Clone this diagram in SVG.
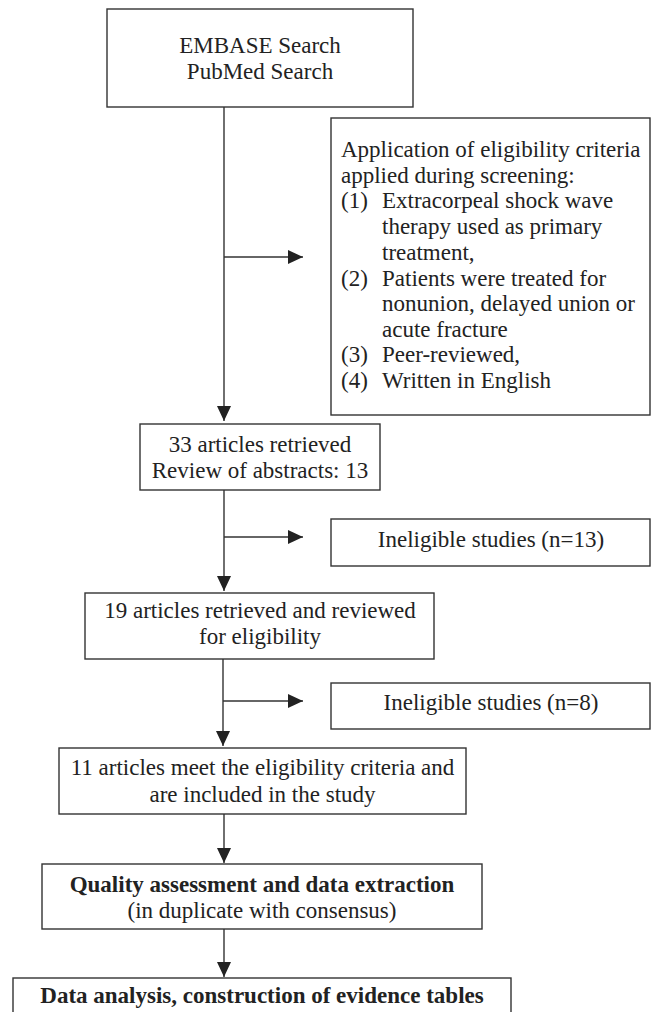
<svg xmlns="http://www.w3.org/2000/svg" width="662" height="1012" viewBox="0 0 662 1012">
<style>
.box{fill:#fff;stroke:#333;stroke-width:1.4}
.t{font-family:"Liberation Serif","Times New Roman",serif;font-size:23px;fill:#222}
.c{text-anchor:middle}
.b{font-weight:bold}
.ln{stroke:#333;stroke-width:1.4;fill:none}
</style>
<defs>
<marker id="ah" markerUnits="userSpaceOnUse" markerWidth="15" markerHeight="14" refX="15" refY="7" orient="auto">
<path d="M0,0 L15,7 L0,14 z" fill="#222"/>
</marker>
</defs>
<rect width="662" height="1012" fill="#fff"/>
<g id="connectors">
<line class="ln" x1="224" y1="107" x2="224" y2="421" marker-end="url(#ah)"/>
<line class="ln" x1="224" y1="257" x2="303" y2="257" marker-end="url(#ah)"/>
<line class="ln" x1="224" y1="490" x2="224" y2="591" marker-end="url(#ah)"/>
<line class="ln" x1="224" y1="537" x2="303" y2="537" marker-end="url(#ah)"/>
<line class="ln" x1="223" y1="659" x2="223" y2="746" marker-end="url(#ah)"/>
<line class="ln" x1="223" y1="701" x2="303" y2="701" marker-end="url(#ah)"/>
<line class="ln" x1="224" y1="814" x2="224" y2="863" marker-end="url(#ah)"/>
<line class="ln" x1="224" y1="929" x2="224" y2="977" marker-end="url(#ah)"/>
</g>
<g id="search">
<rect class="box" x="107" y="9" width="306" height="98"/>
<text class="t c" x="260" y="53">EMBASE Search</text>
<text class="t c" x="260" y="79">PubMed Search</text>
</g>
<g id="criteria">
<rect class="box" x="331" y="118" width="319" height="297"/>
<text class="t" x="341" y="157">Application of eligibility criteria</text>
<text class="t" x="341" y="183">applied during screening:</text>
<text class="t" x="341" y="208">(1)</text>
<text class="t" x="382" y="208">Extracorpeal shock wave</text>
<text class="t" x="382" y="234">therapy used as primary</text>
<text class="t" x="382" y="260">treatment,</text>
<text class="t" x="341" y="286">(2)</text>
<text class="t" x="382" y="286">Patients were treated for</text>
<text class="t" x="382" y="311">nonunion, delayed union or</text>
<text class="t" x="382" y="337">acute fracture</text>
<text class="t" x="341" y="362">(3)</text>
<text class="t" x="382" y="362">Peer-reviewed,</text>
<text class="t" x="341" y="388">(4)</text>
<text class="t" x="382" y="388">Written in English</text>
</g>
<g id="retrieved33">
<rect class="box" x="140" y="424" width="240" height="66"/>
<text class="t c" x="260" y="452">33 articles retrieved</text>
<text class="t c" x="260" y="478">Review of abstracts: 13</text>
</g>
<g id="ineligible13">
<rect class="box" x="331" y="519" width="319" height="47"/>
<text class="t c" x="491" y="547">Ineligible studies (n=13)</text>
</g>
<g id="retrieved19">
<rect class="box" x="85" y="593" width="349" height="66"/>
<text class="t c" x="260" y="618">19 articles retrieved and reviewed</text>
<text class="t c" x="260" y="644">for eligibility</text>
</g>
<g id="ineligible8">
<rect class="box" x="331" y="683" width="319" height="46"/>
<text class="t c" x="491" y="710">Ineligible studies (n=8)</text>
</g>
<g id="included11">
<rect class="box" x="59" y="748" width="407" height="66"/>
<text class="t c" x="262.5" y="775">11 articles meet the eligibility criteria and</text>
<text class="t c" x="262.5" y="802">are included in the study</text>
</g>
<g id="quality">
<rect class="box" x="42" y="864" width="440" height="65"/>
<text class="t c b" x="262" y="892">Quality assessment and data extraction</text>
<text class="t c" x="262" y="918">(in duplicate with consensus)</text>
</g>
<g id="analysis">
<rect class="box" x="13" y="978" width="498" height="60"/>
<text class="t c b" x="262" y="1003">Data analysis, construction of evidence tables</text>
</g>
</svg>
